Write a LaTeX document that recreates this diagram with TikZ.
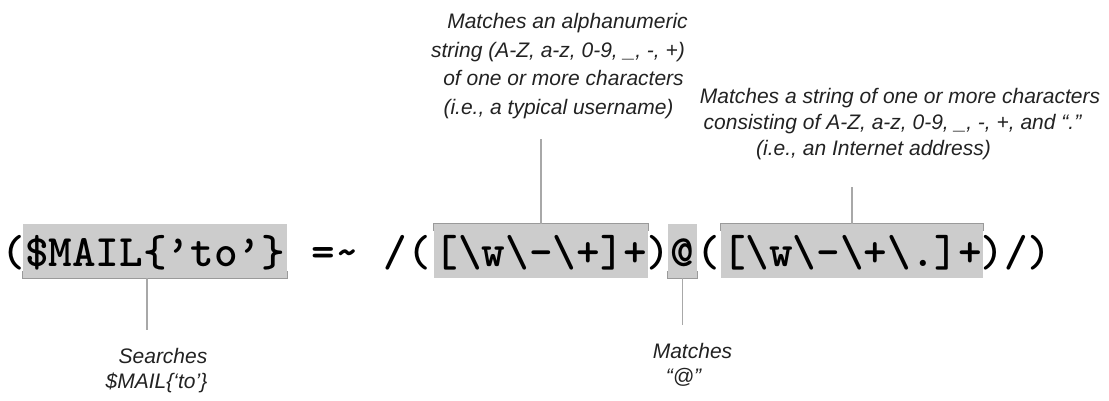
\documentclass[tikz,border=0pt]{standalone}
\usepackage{fontspec}
\newfontfamily\lblfont{Liberation Sans}
\definecolor{boxfill}{HTML}{CCCCCC}
\definecolor{boxedge}{HTML}{9A9A9A}
\definecolor{conncol}{HTML}{A8A8A8}
\definecolor{lbltext}{HTML}{222222}
\begin{document}
\begin{tikzpicture}[x=1pt,y=-1pt,
  code/.style={font=\ttfamily\bfseries\fontsize{45}{46}\selectfont, inner sep=0pt,
    text height=42pt, text depth=12pt, anchor=base},
  regbox/.style={code, fill=boxfill},
  lbl/.style={font=\lblfont\itshape\fontsize{21}{28}\selectfont, inner sep=0pt,
    anchor=base, text=lbltext},
  conn/.style={draw=conncol, line width=1.2pt},
  bracket/.style={draw=boxedge, line width=1pt}]
\useasboundingbox (0,0) rectangle (1109,401);

% code line
\node[code] (p1) at (13.5,266) {(};
\node[regbox, minimum width=264pt] (var) at (155,266) {\$MAIL\{’to’\}};
\node[code] (op) at (335,266) {=\textasciitilde};
\node[code] (sl) at (407,266) {/(};
\node[regbox, minimum width=214pt] (user) at (541,266) {[\textbackslash w\textbackslash -\textbackslash +]+};
\node[code] (rp) at (658,266) {)};
\node[regbox, minimum width=29pt] (at) at (682.5,266) {@};
\node[code] (lp) at (708.5,266) {(};
\node[regbox, minimum width=262pt] (host) at (852,266) {[\textbackslash w\textbackslash -\textbackslash +\textbackslash .]+};
\node[code] (fin) at (1016,266) {)/)};

% brackets
\draw[bracket] ([yshift=7pt]var.south west) -- (var.south west) -- (var.south east) -- ([yshift=7pt]var.south east);
\draw[bracket] ([yshift=7pt]at.south west) -- (at.south west) -- (at.south east) -- ([yshift=7pt]at.south east);
\draw[bracket] ([yshift=-7pt]user.north west) -- (user.north west) -- (user.north east) -- ([yshift=-7pt]user.north east);
\draw[bracket] ([yshift=-7pt]host.north west) -- (host.north west) -- (host.north east) -- ([yshift=-7pt]host.north east);

% labels
\node[lbl] (a1) at (567.5,29) {Matches an alphanumeric};
\node[lbl] (a2) at (558,57.5) {string (A-Z, a-z, 0-9, \_, -, +)};
\node[lbl] (a3) at (563.5,86) {of one or more characters};
\node[lbl] (a4) at (558.5,114.5) {(i.e., a typical username)};

\node[lbl] (b1) at (900,104) {Matches a string of one or more characters};
\node[lbl] (b2) at (892.5,130) {consisting of A-Z, a-z, 0-9, \_, -, +, and “.”};
\node[lbl] (b3) at (873.5,156) {(i.e., an Internet address)};

\node[lbl] (c1) at (163,363) {Searches};
\node[lbl] (c2) at (156.5,388) {\$MAIL\{‘to’\}};

\node[lbl] (d1) at (692.5,358) {Matches};
\node[lbl] (d2) at (683.5,383) {“@”};

% connectors
\coordinate (cA) at (541,139);
\coordinate (cB) at (852,187);
\coordinate (cC) at (147,330);
\coordinate (cD) at (682.5,325);
\draw[conn] (user.north) -- (cA);
\draw[conn] (host.north) -- (cB);
\draw[conn] (var.south -| cC) -- (cC);
\draw[conn] (at.south) -- (cD);
\end{tikzpicture}
\end{document}
